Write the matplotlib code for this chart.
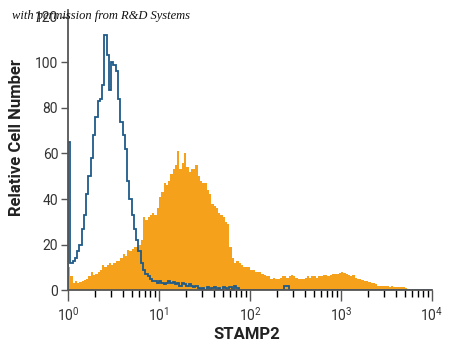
import numpy as np
import matplotlib
matplotlib.use("Agg")
import matplotlib.pyplot as plt

# histogram channels: 40 bins per decade from 10^0 to 10^4
n_bins = 160
decade_ticks = [1, 10, 100, 1000, 10000]
tick_labels = [r"$10^{0}$", r"$10^{1}$", r"$10^{2}$", r"$10^{3}$", r"$10^{4}$"]

# isotype control (blue outline)
control_counts = [
    65, 12, 13, 14, 17, 20, 27, 33, 42, 50,
    58, 68, 76, 83, 84, 90, 112, 103, 88, 100,
    99, 96, 84, 74, 68, 62, 48, 40, 33, 27,
    22, 17, 12, 9, 7, 6, 5, 4, 4, 3,
    4, 3, 2.5, 3, 4, 3, 3.5, 2.5, 3, 2,
    3, 2.5, 2, 2.5, 2, 1.5, 2, 1, 0.5, 1,
    0, 1.5, 0, 1, 1.5, 0, 1, 0, 1.5, 1,
    0, 1.5, 0, 2, 1, 0, 0, 0, 0, 0,
    0, 0, 0, 0, 0, 0, 0, 0, 0, 0,
    0, 0, 0, 0, 0, 2, 2, 0, 0, 0,
] + [0] * 60

# STAMP2 stained cells (orange fill)
stamp2_counts = [
    10, 6, 3, 4, 3, 3.5, 4, 4.5, 5, 6,
    8, 6.5, 7, 8, 9, 11, 10, 11, 12, 11,
    12, 13, 13, 14, 16, 15, 17.5, 17, 18, 19,
    19, 20, 22, 32, 31, 32, 33, 34, 33, 36,
    41, 43, 47, 46, 48, 51, 53, 55, 61, 53,
    56, 60, 54, 52, 53, 53, 55, 50, 48, 47,
    47, 44, 42, 38, 37, 36, 34, 33, 32, 30,
    29, 19, 14, 12, 13, 12, 11, 10, 10, 10,
    9, 9, 8, 8, 8, 7, 6.5, 6, 6, 5,
    5.5, 5, 5, 5.5, 6, 6, 5.5, 6, 6.5, 6,
    5.5, 5, 5, 5, 5.5, 6, 5.5, 6, 6, 5.5,
    6, 6, 6.5, 6.5, 6, 6.5, 7, 7, 7, 7.5,
    8, 7.5, 7, 6.5, 6, 6.5, 5.5, 5, 5, 4.5,
    4, 4, 3.5, 3, 3, 2.5, 2, 2, 2, 2,
    2, 1.5, 2, 1.5, 1.5, 1.5, 1.5, 1.5, 1, 0,
] + [0] * 10

edges = np.logspace(0, 4, n_bins + 1)

plt.rcParams["font.family"] = ["Roboto", "DejaVu Sans"]
plt.rcParams["mathtext.fontset"] = "custom"
plt.rcParams["mathtext.rm"] = "Roboto"
plt.rcParams["mathtext.it"] = "Roboto"

fig = plt.figure(figsize=(4.5, 3.53), dpi=100)
ax = fig.add_axes([0.151, 0.178, 0.809, 0.794])

ax.stairs(stamp2_counts, edges, fill=True, color="#F6A11C", lw=0)
ax.stairs(control_counts, edges, color="#1F5A88", lw=1.3)

ax.set_xscale("log")
ax.set_xlim(1, 1e4)
ax.set_ylim(0, 123)
ax.set_yticks(range(0, 121, 20))
ax.set_xticks(decade_ticks)
ax.set_xticklabels(tick_labels)

for side in ["top", "right"]:
    ax.spines[side].set_visible(False)
for side in ["left", "bottom"]:
    ax.spines[side].set_color("#555555")
    ax.spines[side].set_linewidth(1.3)

ax.tick_params(axis="both", colors="#555555", labelcolor="#333333", labelsize=10)
ax.tick_params(axis="x", which="major", length=8, width=1, pad=3)
ax.tick_params(axis="x", which="minor", length=5, width=1)
ax.tick_params(axis="y", length=5, width=1, pad=2)

fig.text(0.037, 0.609, "Relative Cell Number", rotation=90, ha="center", va="center",
         fontsize=12, fontweight="bold", color="#222222")
fig.text(0.549, 0.051, "STAMP2", ha="center", va="center",
         fontsize=12, fontweight="bold", color="#222222")

fig.text(12 / 450, 1 - 16 / 353, "with permission from R&D Systems",
         family=["Liberation Serif", "DejaVu Serif"], style="italic",
         fontsize=9, va="center", ha="left", color="#111111", zorder=10)

fig.savefig("out.png", dpi=100)
